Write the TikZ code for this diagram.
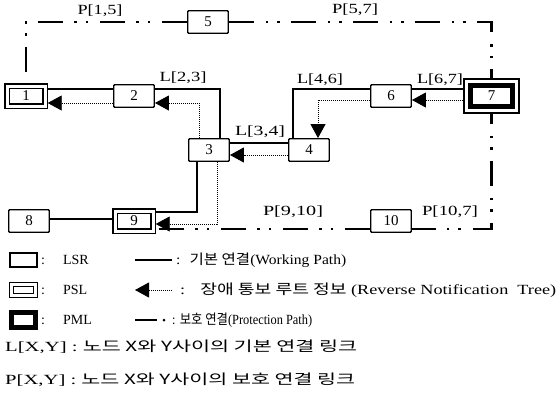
\documentclass[tikz,border=0pt]{standalone}
\usepackage{graphicx}
\usepackage{fontspec}
\setmainfont{Liberation Serif}
\newfontfamily\kr{Noto Sans CJK KR}
\usetikzlibrary{arrows.meta,fit,calc}
\newcommand\fw[2]{\resizebox{#1}{\height}{#2}}
\begin{document}
\begin{tikzpicture}[x=1pt,y=-1pt,
  lsr/.style={draw, line width=1.4pt, minimum width=40.5pt, minimum height=22.5pt, inner sep=0pt, rounded corners=0.8pt, font=\fontsize{15}{15}\selectfont},
  psl/.style={draw, line width=1.2pt, double, double distance=3pt, minimum width=38pt, minimum height=20pt, inner sep=0pt, outer sep=2.7pt, font=\fontsize{15}{15}\selectfont},
  pml/.style={draw, line width=5.5pt, minimum width=42pt, minimum height=21pt, inner sep=0pt, outer sep=0pt, font=\fontsize{15}{15}\selectfont},
  work/.style={line width=1.4pt},
  note/.style={line width=0.9pt, dash pattern=on 1pt off 1pt, -{Triangle[length=14pt,width=15pt]}},
  prot/.style={line width=2.6pt, dash pattern=on 25pt off 12pt on 2.5pt off 9pt on 2.5pt off 11pt},
  lbl/.style={inner sep=0pt, font=\fontsize{14}{14}\selectfont},
  leg/.style={inner sep=0pt, anchor=west, font=\fontsize{14}{14}\selectfont}
]
\useasboundingbox (0,0) rectangle (559,402);

% nodes
\node[psl] (n1) at (26,96) {1};
\node[lsr] (n2) at (134,96) {2};
\node[lsr] (n3) at (209,150) {3};
\node[lsr] (n4) at (309,150) {4};
\node[lsr] (n5) at (208,22) {5};
\node[lsr] (n6) at (391,96) {6};
\node[pml] (n7) at (491.5,96) {7};
\node[fit=(n7), draw, line width=1.2pt, inner sep=6.5pt] (n7o) {};
\node[lsr] (n8) at (29,221) {8};
\node[psl] (n9) at (134,221) {9};
\node[lsr] (n10) at (391,221) {10};

% protection path
\draw[prot] (n5.west) -| (n1.north);
\draw[prot] (n5.east) -| (n7o.north);
\draw[prot, dash phase=15pt] (n7o.south) |- ([yshift=-8pt]n10.east);
\draw[prot] ([yshift=-8pt]n10.west) -- ([yshift=-8pt]n9.east);

% working path
\draw[work] ([yshift=7pt]n1.east) -- ([yshift=7pt]n2.west);
\draw[work] ([yshift=7pt]n2.east) -| ([xshift=11pt]n3.north);
\draw[work] ([yshift=7pt]n3.east) -- ([yshift=7pt]n4.west);
\draw[work] ([xshift=-16pt]n4.north) |- ([yshift=7pt]n6.west);
\draw[work] ([yshift=7pt]n6.east) -- ([yshift=7pt]n7o.west);
\draw[work] ([xshift=-12pt]n3.south) |- ([yshift=9pt]n9.east);
\draw[work] ([yshift=2pt]n8.east) -- ([yshift=2pt]n9.west);

% reverse notification tree
\draw[note] ([yshift=-4pt]n7o.west) -- ([yshift=-4pt]n6.east);
\draw[note] ([yshift=-4pt]n6.west) -| ([xshift=9pt]n4.north);
\draw[note] ([yshift=-5pt]n4.west) -- ([yshift=-5pt]n3.east);
\draw[note] ([xshift=-10pt]n3.north) |- ([yshift=-7pt]n2.east);
\draw[note] ([yshift=-7pt]n2.west) -- ([yshift=-7pt]n1.east);
\draw[note] ([xshift=8pt]n3.south) |- ([yshift=-3pt]n9.east);

% link labels
\node[lbl] (p15) at (100,11) {\fw{45pt}{P[1,5]}};
\node[lbl] (p57) at (355,10) {\fw{46pt}{P[5,7]}};
\node[lbl] (l23) at (183,78) {\fw{47pt}{L[2,3]}};
\node[lbl] (l34) at (260,132) {\fw{50pt}{L[3,4]}};
\node[lbl] (l46) at (320,80) {\fw{46pt}{L[4,6]}};
\node[lbl] (l67) at (440,80) {\fw{46pt}{L[6,7]}};
\node[lbl] (p910) at (293,212) {\fw{60pt}{P[9,10]}};
\node[lbl] (p107) at (450,212) {\fw{56pt}{P[10,7]}};

% legend symbols
\node[draw, line width=1.4pt, minimum width=27pt, minimum height=14pt, inner sep=0pt] (g1) at (23.5,260) {};
\node[draw, line width=1.2pt, double, double distance=2.5pt, minimum width=24pt, minimum height=11pt, inner sep=0pt] (g2) at (23.5,290) {};
\node[draw, line width=5pt, minimum width=24pt, minimum height=15pt, inner sep=0pt] (g3) at (23.5,320) {};
\node[leg] (t1) at (41,260) {:\hspace{18pt}LSR};
\node[leg] (t2) at (41,290) {:\hspace{18pt}PSL};
\node[leg] (t3) at (41,320) {:\hspace{18pt}PML};

\coordinate (a1) at (135,260); \coordinate (b1) at (172,260);
\draw[work] (a1) -- (b1);
\node[leg] (d1) at (176,260) {\fw{170pt}{: \ {\kr 기본 연결}(Working Path)}};

\coordinate (a2) at (172,290); \coordinate (b2) at (135,290);
\draw[note] (a2) -- (b2);
\node[leg] (d2) at (180,290) {\fw{376pt}{: \ \ {\kr 장애 통보 루트 정보} (Reverse Notification \ Tree)}};

\coordinate (a3) at (135,320); \coordinate (b3) at (157,320);
\draw[line width=2.6pt] (a3) -- (b3);
\coordinate (c3) at (164,320);
\fill (c3) circle (1.5pt);
\node[leg] (d3) at (172,320) {\fw{140pt}{: {\kr 보호 연결}(Protection Path)}};

\node[leg] (d4) at (5,347) {\fw{352pt}{L[X,Y] : {\kr 노드 X와 Y사이의 기본 연결 링크}}};
\node[leg] (d5) at (5,380) {\fw{350pt}{P[X,Y] : {\kr 노드 X와 Y사이의 보호 연결 링크}}};
\end{tikzpicture}
\end{document}
